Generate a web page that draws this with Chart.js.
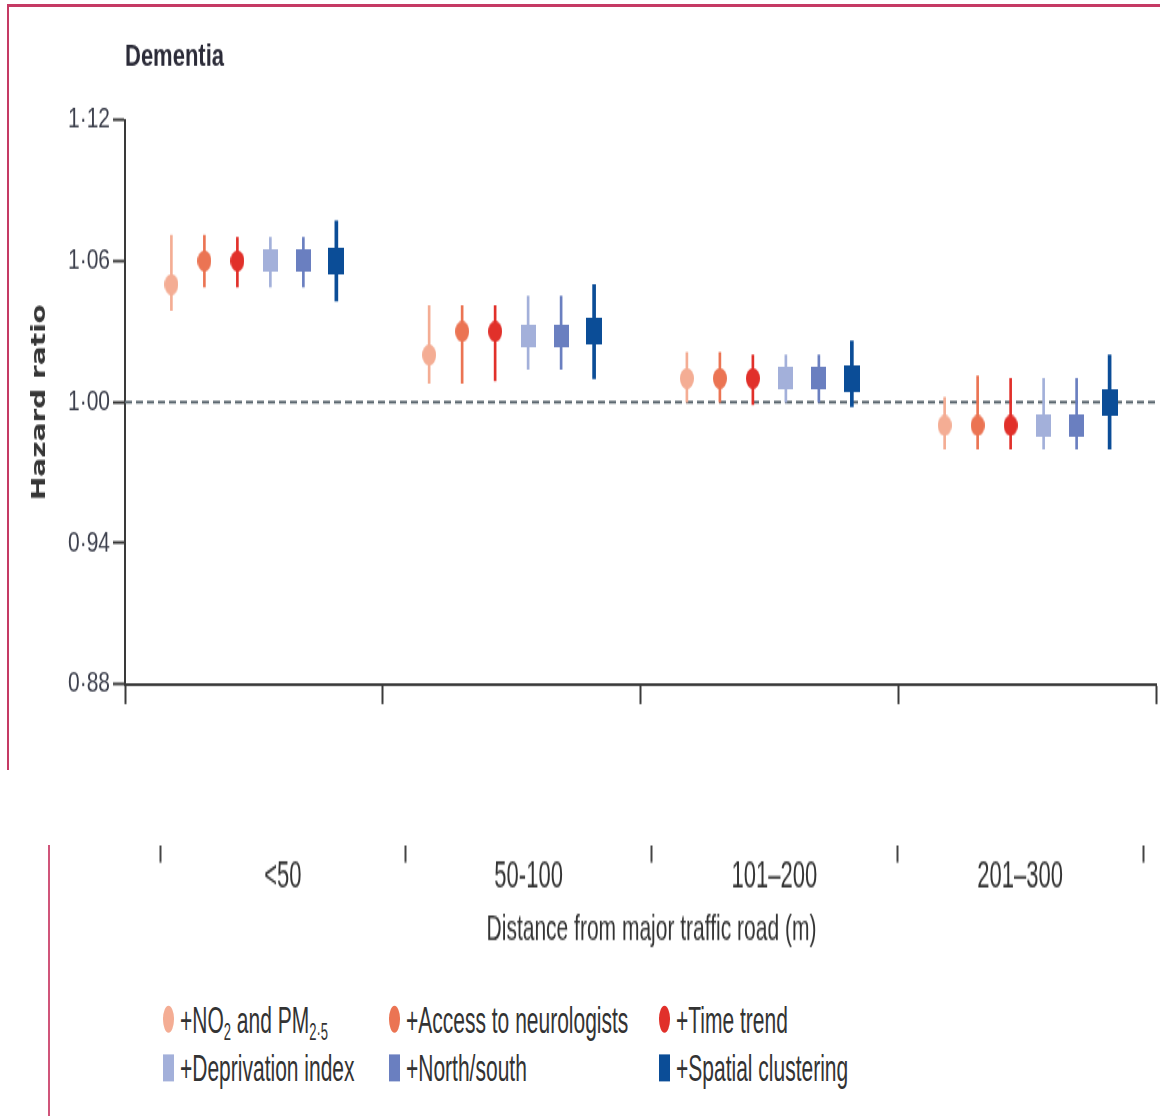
<!DOCTYPE html>
<html>
<head>
<meta charset="utf-8">
<script src="https://cdn.jsdelivr.net/npm/chart.js@4.4.1/dist/chart.umd.min.js"></script>
<style>
  html, body { margin:0; padding:0; background:#fff; width:1160px; height:1116px; overflow:hidden; position:relative; font-family:"Liberation Sans", Arial, sans-serif; }
  #frameTop { position:absolute; left:7px; top:4px; width:1153px; height:3px; background:#c53a64; }
  #frameLeft { position:absolute; left:7px; top:4px; width:2px; height:766px; background:#c53a64; }
  #frameLeft2 { position:absolute; left:48px; top:845px; width:2px; height:271px; background:#d0557a; }
  #topWrap { position:absolute; left:0; top:0; width:1160px; height:550px; transform:scaleY(1.4); transform-origin:0 0; }
  #botWrap { position:absolute; left:0; top:827.5px; width:1160px; height:80px; transform:scaleY(1.75); transform-origin:0 0; }
  #legend { position:absolute; left:0; top:995px; width:1160px; height:56px; transform:scaleY(1.8); transform-origin:0 0; color:#333; font-size:21px; }
  .item { position:absolute; height:27px; line-height:27px; white-space:nowrap; }
  .mk { position:absolute; left:0; top:6px; width:11px; height:15px; }
  .txt { position:absolute; left:17px; top:0; }
  .txt sub { font-size:13px; vertical-align:-4px; line-height:0; }
  canvas { display:block; }
</style>
</head>
<body>
<div id="frameTop"></div>
<div id="frameLeft"></div>
<div id="frameLeft2"></div>
<div id="topWrap"><canvas id="top" width="1160" height="550"></canvas></div>
<div id="botWrap"><canvas id="bot" width="1160" height="80"></canvas></div>
<div id="legend"></div>
<script>
// ---------------- data ----------------
const groups = ['<50', '50-100', '101–200', '201–300'];
const seriesNames = ['+NO2 and PM2·5', '+Access to neurologists', '+Time trend', '+Deprivation index', '+North/south', '+Spatial clustering'];
const legendLabels = ['+NO<sub>2</sub> and PM<sub>2·5</sub>', '+Access to neurologists', '+Time trend', '+Deprivation index', '+North/south', '+Spatial clustering'];

const hrNO2      = [1.050, 1.020, 1.010, 0.990];
const loNO2      = [1.039, 1.008, 1.000, 0.980];
const hiNO2      = [1.071, 1.041, 1.021, 1.002];

const hrAccess   = [1.060, 1.030, 1.010, 0.990];
const loAccess   = [1.049, 1.008, 1.000, 0.980];
const hiAccess   = [1.071, 1.041, 1.021, 1.011];

const hrTime     = [1.060, 1.030, 1.010, 0.990];
const loTime     = [1.049, 1.009, 0.999, 0.980];
const hiTime     = [1.070, 1.041, 1.020, 1.010];

const hrDepriv   = [1.060, 1.028, 1.010, 0.990];
const loDepriv   = [1.049, 1.014, 1.000, 0.980];
const hiDepriv   = [1.070, 1.045, 1.020, 1.010];

const hrNorth    = [1.060, 1.028, 1.010, 0.990];
const loNorth    = [1.049, 1.014, 1.000, 0.980];
const hiNorth    = [1.070, 1.045, 1.020, 1.010];

const hrSpatial  = [1.060, 1.030, 1.010, 1.000];
const loSpatial  = [1.043, 1.010, 0.998, 0.980];
const hiSpatial  = [1.077, 1.050, 1.026, 1.020];

const yTickValues = [0.88, 0.94, 1.00, 1.06, 1.12];
const refValue = 1.00;

// ---------------- styles ----------------
const colors = ['#f4ad94', '#eb7453', '#e1302a', '#a3b0da', '#6a7fc0', '#0b4d97'];
const shapes = ['circle', 'circle', 'circle', 'rect', 'rect', 'rect'];
const markerSize = [[14,15],[14,15],[14,15],[15,16],[15,16],[16,19]];
const barWidths = [2, 2, 2, 2, 2, 3];
const hrs = [hrNO2, hrAccess, hrTime, hrDepriv, hrNorth, hrSpatial];
const los = [loNO2, loAccess, loTime, loDepriv, loNorth, loSpatial];
const his = [hiNO2, hiAccess, hiTime, hiDepriv, hiNorth, hiSpatial];

const nS = seriesNames.length;
const spacing = 0.128;
const xPos = (g, s) => g + 0.5 + (s - (nS - 1) / 2) * spacing;

function markerImg(shape, w, h, color) {
  const c = document.createElement('canvas');
  c.width = w; c.height = h;
  const x = c.getContext('2d');
  x.fillStyle = color;
  if (shape === 'circle') { x.beginPath(); x.ellipse(w/2, h/2, w/2, h/2, 0, 0, Math.PI*2); x.fill(); }
  else x.fillRect(0, 0, w, h);
  return c;
}

const datasets = [];
for (let s = 0; s < nS; s++) {
  datasets.push({
    type: 'scatter', label: seriesNames[s], order: 0,
    data: hrs[s].map((v, g) => ({ x: xPos(g, s), y: v })),
    pointStyle: markerImg(shapes[s], markerSize[s][0], markerSize[s][1], colors[s]),
    backgroundColor: colors[s], borderColor: colors[s], pointBorderWidth: 0
  });
}
for (let s = 0; s < nS; s++) {
  datasets.push({
    type: 'bar', label: seriesNames[s] + ' CI', order: 1,
    data: los[s].map((lo, g) => ({ x: xPos(g, s), y: [lo, his[s][g]] })),
    backgroundColor: colors[s], borderWidth: 0, grouped: false, barThickness: barWidths[s]
  });
}
datasets.push({
  type: 'line', label: 'ref', order: 2, showLine: true, clip: false,
  data: [{ x: 0, y: refValue }, { x: groups.length, y: refValue }],
  borderColor: '#5e6a72', borderWidth: 2, borderDash: [7, 4], pointRadius: 0, fill: false
});

const fontFam = '"Liberation Sans", Arial, sans-serif';
const axisColor = '#3a3a3a';

new Chart(document.getElementById('top'), {
  type: 'scatter',
  data: { datasets },
  options: {
    responsive: false, animation: false, events: [],
    layout: { padding: { left: 0, right: 3, top: 0, bottom: 0 } },
    plugins: {
      legend: { display: false }, tooltip: { enabled: false },
      title: { display: true, text: 'Dementia', align: 'start', fullSize: false, color: '#2b2b38',
               font: { family: fontFam, size: 22, weight: 'bold' }, padding: { top: 28, bottom: 31.3 } }
    },
    scales: {
      x: {
        type: 'linear', min: 0, max: groups.length, offset: false,
        afterBuildTicks: sc => { sc.ticks = Array.from({ length: groups.length + 1 }, (_, i) => ({ value: i })); },
        ticks: { display: false },
        grid: { offset: false, drawOnChartArea: false, drawTicks: true, tickLength: 14.3, tickWidth: 2, tickColor: axisColor },
        border: { display: true, width: 2, color: axisColor },
        afterFit: sc => { sc.height = 61.4; }
      },
      y: {
        type: 'linear', min: yTickValues[0], max: yTickValues[yTickValues.length - 1],
        afterBuildTicks: sc => { sc.ticks = yTickValues.map(v => ({ value: v })); },
        ticks: { callback: v => Number(v).toFixed(2).replace('.', '·'), color: '#3c3f4c', font: { family: fontFam, size: 21 }, padding: 3 },
        grid: { drawOnChartArea: false, drawTicks: true, tickLength: 12, tickWidth: 2, tickColor: axisColor },
        border: { display: true, width: 2, color: axisColor },
        title: { display: true, text: 'Hazard ratio', color: '#363636', font: { family: '"DejaVu Sans", sans-serif', size: 20, weight: 'bold' }, padding: { top: 28, bottom: 0 } },
        afterFit: sc => { sc.width = 125; }
      }
    }
  }
});

new Chart(document.getElementById('bot'), {
  type: 'bar',
  data: { labels: groups, datasets: [] },
  options: {
    responsive: false, animation: false, events: [],
    layout: { padding: { left: 160, right: 17, top: 0, bottom: 0 } },
    plugins: { legend: { display: false }, tooltip: { enabled: false } },
    scales: {
      x: {
        type: 'category', offset: true,
        grid: { offset: true, drawOnChartArea: false, drawTicks: true, tickLength: 9.7, tickWidth: 2, tickColor: '#444' },
        border: { display: false },
        ticks: { color: '#333', font: { family: fontFam, size: 22 }, padding: -5, maxRotation: 0, autoSkip: false },
        title: { display: true, text: 'Distance from major traffic road (m)', color: '#333', font: { family: fontFam, size: 21 }, padding: { top: 0, bottom: 9.4 } },
        afterFit: sc => { sc.height = 70; }
      },
      y: { display: false }
    }
  }
});

// ---------------- legend ----------------
const legendCols = [163, 389, 659];
const leg = document.getElementById('legend');
for (let s = 0; s < nS; s++) {
  const it = document.createElement('div');
  it.className = 'item';
  it.style.left = legendCols[s % 3] + 'px';
  it.style.top = (Math.floor(s / 3) * 27) + 'px';
  const mk = document.createElement('span');
  mk.className = 'mk';
  mk.style.background = colors[s];
  if (shapes[s] === 'circle') mk.style.borderRadius = '50%';
  const tx = document.createElement('span');
  tx.className = 'txt';
  tx.innerHTML = legendLabels[s];
  it.appendChild(mk); it.appendChild(tx);
  leg.appendChild(it);
}
</script>
</body>
</html>
